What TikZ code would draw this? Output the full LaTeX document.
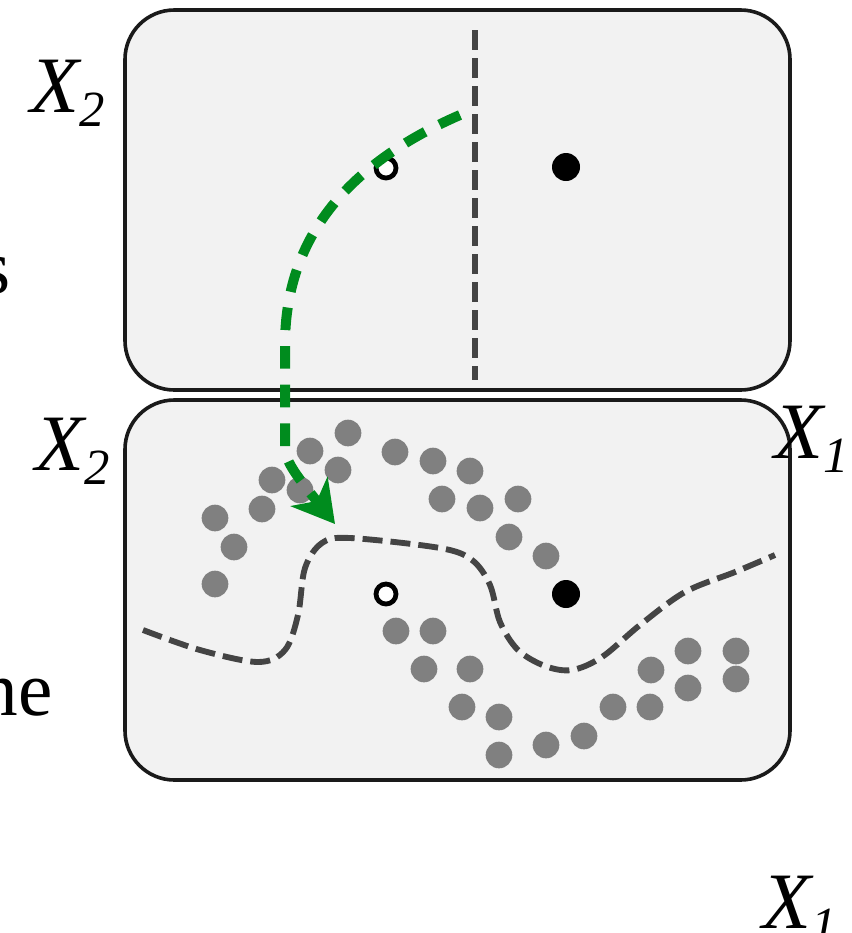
\documentclass[tikz,border=0pt]{standalone}
\usepackage{fontspec}
\setmainfont{Liberation Serif}
\usetikzlibrary{arrows.meta}
\definecolor{boxfill}{HTML}{F2F2F2}
\definecolor{boxline}{HTML}{1A1A1A}
\definecolor{bndgray}{HTML}{444444}
\definecolor{dotgray}{HTML}{808080}
\definecolor{pathgreen}{HTML}{008C1E}
\tikzset{
  panel/.style={draw=boxline, fill=boxfill, line width=2.7pt, rounded corners=37pt},
  boundary/.style={draw=bndgray, line width=4.4pt, dash pattern=on 15pt off 6pt},
  graydot/.style={circle, fill=dotgray, inner sep=0pt, minimum size=20pt},
  opendot/.style={circle, draw=black, fill=white, line width=3.6pt, inner sep=0pt, minimum size=15pt},
  fulldot/.style={circle, fill=black, inner sep=0pt, minimum size=21pt},
  greenpath/.style={draw=pathgreen, line width=7.5pt, dash pattern=on 17pt off 12pt},
  axlabel/.style={inner sep=0pt, font=\fontsize{60}{64}\selectfont\itshape},
  cuttext/.style={inner sep=0pt, font=\fontsize{58}{62}\selectfont}
}
\newcommand{\lbl}[2]{#1\raisebox{-0.18em}{\fontsize{38}{40}\selectfont #2}}
\begin{document}
\begin{tikzpicture}[x=0.75pt, y=-0.75pt]
\useasboundingbox (0,0) rectangle (851,933);
\clip (0,0) rectangle (851,933);
% panels
\draw[panel] (125,10) rectangle (790,390);
\draw[panel] (125,400) rectangle (790,780);
% labels
\node[axlabel, anchor=base west] (x2top) at (30,112) {\lbl{X}{2}};
\node[axlabel, anchor=base west] (x2bot) at (35,470) {\lbl{X}{2}};
\node[axlabel, anchor=base west] (x1right) at (774,458) {\lbl{X}{1}};
\node[axlabel, anchor=base west] (x1bot) at (762,928) {\lbl{X}{1}};
\node[cuttext, anchor=base east] (stxt) at (11,293) {s};
\node[cuttext, anchor=base east] (netxt) at (53,715) {ne};
% top panel boundary
\draw[boundary] (475,30) -- (475,380);
\node[opendot] (topopen) at (386,168) {};
\node[fulldot] (topfull) at (566,167) {};
% bottom panel dots
\foreach \i/\x/\y in {a1/348/433, a2/310/451, a3/338/470, a4/272/480, a5/300/490, a6/262/509,
  a7/215/518, a8/234/547, a9/215/584, a10/395/452, a11/433/461, a12/470/471, a13/442/499,
  a14/480/508, a15/518/499, a16/509/537, a17/546/556,
  b1/396/631, b2/433/631, b3/424/669, b4/470/669, b5/462/707, b6/499/717, b7/499/755,
  b8/546/745, b9/584/736, b10/613/707, b11/650/707, b12/651/670, b13/688/651, b14/688/688,
  b15/736/651, b16/736/679}
  \node[graydot] (d\i) at (\x,\y) {};
% bottom boundary
\draw[boundary] plot[smooth, tension=0.55] coordinates {(143,630) (200,650) (258,662) (285,650) (298,615) (305,568) (322,543) (350,538) (440,548) (472,560) (490,585) (500,622) (518,650) (545,666) (572,670) (602,657) (640,625) (685,592) (735,572) (775,555)};
\node[opendot] (botopen) at (386,594) {};
\node[fulldot] (botfull) at (566,594) {};
% green transfer path
\coordinate (gstart) at (460,115);
\coordinate (gend) at (335,524);
\draw[greenpath, -{Stealth[length=31pt, width=35pt, inset=9pt]}]
  (gstart) .. controls (345,165) and (285,240) .. (285,345) -- (285,448)
  .. controls (285,462) and (300,480) .. (gend);
\end{tikzpicture}
\end{document}
